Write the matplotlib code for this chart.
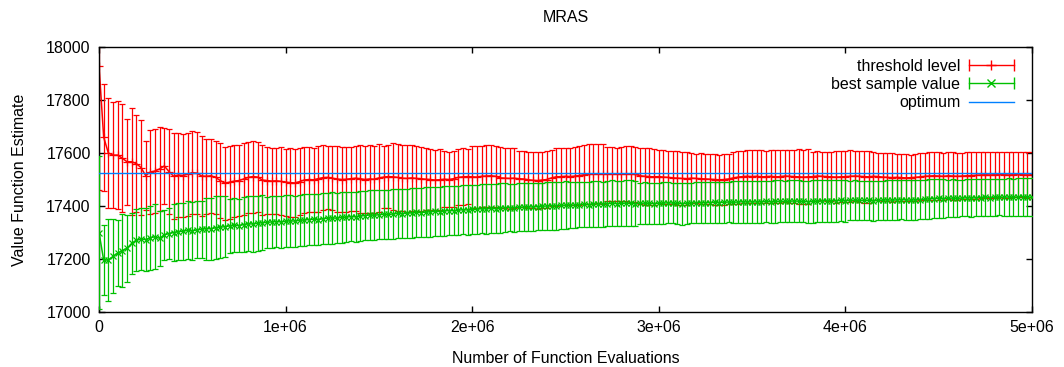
import numpy as np
import matplotlib
matplotlib.use("Agg")
import matplotlib.pyplot as plt
from matplotlib.lines import Line2D
from matplotlib.legend_handler import HandlerLine2D, HandlerTuple

plt.rcParams['font.family'] = ['Liberation Sans', 'DejaVu Sans']

# ---- data ----
evaluations = np.arange(0, 5_000_001, 25_000)

threshold_mean = [
    17930, 17660, 17600, 17592, 17592, 17580, 17567, 17567, 17560, 17545,
    17515, 17528, 17532, 17540, 17551, 17530, 17512, 17517, 17515, 17520,
    17526, 17524, 17513, 17512, 17514, 17508, 17496, 17486, 17490, 17494,
    17496, 17502, 17508, 17511, 17509, 17498, 17496, 17494, 17495, 17493,
    17490, 17488, 17487, 17492, 17498, 17500, 17499, 17503, 17507, 17508,
    17505, 17502, 17500, 17501, 17503, 17505, 17503, 17500, 17502, 17501,
    17506, 17509, 17511, 17510, 17508, 17505, 17504, 17506, 17504, 17503,
    17501, 17500, 17498, 17499, 17501, 17500, 17503, 17508, 17510, 17511,
    17510, 17509, 17512, 17513, 17514, 17512, 17506, 17505, 17504, 17505,
    17503, 17502, 17499, 17497, 17496, 17498, 17500, 17506, 17510, 17511,
    17512, 17511, 17513, 17515, 17518, 17520, 17521, 17522, 17521, 17520,
    17521, 17520, 17521, 17522, 17521, 17519, 17514, 17512, 17511, 17510,
    17511, 17509, 17508, 17506, 17505, 17504, 17503, 17505, 17504, 17503,
    17502, 17501, 17500, 17499, 17500, 17502, 17506, 17509, 17511, 17512,
    17511, 17512, 17510, 17511, 17512, 17510, 17511, 17513, 17512, 17511,
    17510, 17509, 17510, 17511, 17513, 17512, 17511, 17510, 17509, 17510,
    17511, 17512, 17513, 17512, 17511, 17510, 17512, 17511, 17509, 17508,
    17507, 17508, 17507, 17506, 17507, 17508, 17510, 17512, 17513, 17514,
    17513, 17512, 17514, 17513, 17512, 17513, 17514, 17515, 17516, 17517,
    17518, 17517, 17518, 17519, 17518, 17517, 17518, 17519, 17518, 17517,
    17518,
]

threshold_err = [
    470, 202, 209, 199, 203, 204, 163, 201, 183, 178,
    131, 157, 159, 158, 144, 161, 162, 158, 155, 156,
    158, 154, 150, 142, 140, 138, 141, 137, 138, 136,
    135, 137, 134, 136, 133, 131, 127, 126, 124, 128,
    126, 129, 127, 125, 124, 122, 121, 124, 122, 120,
    121, 123, 124, 122, 121, 123, 128, 127, 129, 126,
    128, 116, 118, 126, 127, 125, 126, 124, 122, 121,
    116, 114, 113, 115, 105, 104, 106, 106, 107, 105,
    116, 117, 115, 116, 118, 114, 115, 113, 114, 112,
    105, 104, 106, 106, 107, 105, 108, 107, 109, 108,
    107, 109, 108, 110, 112, 113, 112, 111, 112, 101,
    102, 100, 101, 103, 105, 104, 106, 107, 108, 106,
    100, 101, 99, 100, 101, 100, 99, 95, 94, 96,
    95, 94, 96, 95, 97, 96, 99, 100, 98, 99,
    101, 99, 100, 98, 99, 100, 99, 98, 99, 100,
    104, 103, 104, 92, 93, 91, 92, 93, 97, 96,
    97, 98, 96, 97, 98, 97, 91, 90, 92, 91,
    92, 90, 88, 89, 87, 88, 89, 88, 89, 90,
    89, 88, 89, 90, 89, 88, 89, 90, 89, 88,
    87, 88, 87, 86, 87, 86, 85, 86, 85, 86,
    85,
]

best_mean = [
    17300, 17196, 17196, 17210, 17222, 17232, 17240, 17259, 17270, 17276,
    17273, 17280, 17284, 17278, 17291, 17296, 17300, 17303, 17305, 17308,
    17306, 17310, 17312, 17315, 17314, 17318, 17320, 17322, 17325, 17327,
    17326, 17330, 17333, 17332, 17335, 17337, 17338, 17340, 17341, 17340,
    17342, 17344, 17343, 17346, 17347, 17349, 17350, 17349, 17352, 17354,
    17355, 17354, 17357, 17358, 17360, 17359, 17362, 17364, 17366, 17365,
    17367, 17369, 17368, 17370, 17372, 17371, 17373, 17374, 17376, 17375,
    17377, 17378, 17380, 17379, 17381, 17383, 17382, 17384, 17386, 17385,
    17387, 17388, 17390, 17389, 17391, 17390, 17392, 17393, 17394, 17393,
    17395, 17396, 17397, 17396, 17398, 17399, 17400, 17401, 17400, 17402,
    17403, 17404, 17403, 17405, 17406, 17405, 17407, 17408, 17407, 17409,
    17410, 17409, 17410, 17411, 17410, 17409, 17410, 17411, 17410, 17409,
    17410, 17411, 17412, 17411, 17410, 17409, 17410, 17411, 17412, 17413,
    17412, 17413, 17414, 17413, 17414, 17415, 17414, 17415, 17416, 17415,
    17416, 17415, 17416, 17417, 17416, 17417, 17418, 17417, 17418, 17419,
    17418, 17417, 17416, 17417, 17418, 17419, 17420, 17419, 17420, 17421,
    17420, 17421, 17422, 17421, 17422, 17421, 17420, 17421, 17422, 17423,
    17422, 17423, 17424, 17423, 17422, 17423, 17424, 17425, 17427, 17428,
    17429, 17428, 17429, 17430, 17429, 17430, 17431, 17430, 17431, 17432,
    17433, 17432, 17433, 17434, 17433, 17434, 17433, 17434, 17435, 17434,
    17433,
]

best_err = [
    287, 132, 156, 140, 125, 136, 125, 116, 117, 116,
    119, 121, 123, 104, 95, 95, 108, 108, 107, 109,
    108, 107, 108, 117, 116, 118, 117, 116, 101, 102,
    101, 104, 103, 105, 104, 103, 97, 98, 96, 97,
    98, 97, 96, 97, 98, 97, 96, 98, 97, 96,
    97, 94, 95, 94, 93, 94, 95, 94, 93, 94,
    93, 92, 93, 94, 93, 92, 93, 94, 93, 92,
    93, 94, 93, 92, 93, 94, 93, 92, 93, 94,
    93, 92, 93, 94, 93, 92, 93, 92, 90, 91,
    90, 89, 90, 91, 90, 89, 90, 91, 90, 89,
    90, 86, 87, 86, 85, 86, 87, 86, 85, 86,
    87, 86, 85, 86, 87, 86, 78, 79, 78, 77,
    78, 79, 78, 77, 78, 79, 78, 77, 78, 79,
    78, 77, 78, 79, 78, 77, 79, 80, 79, 78,
    79, 80, 79, 78, 79, 80, 79, 78, 79, 80,
    79, 78, 79, 80, 79, 78, 79, 80, 79, 78,
    79, 75, 76, 75, 74, 75, 76, 75, 74, 75,
    76, 75, 74, 75, 76, 75, 74, 75, 76, 75,
    74, 75, 70, 71, 70, 69, 70, 71, 70, 69,
    70, 71, 70, 69, 70, 71, 70, 71, 72, 71,
    72,
]

optimum = 17525

x_ticks = [0, 1_000_000, 2_000_000, 3_000_000, 4_000_000, 5_000_000]
x_tick_labels = ['0', '1e+06', '2e+06', '3e+06', '4e+06', '5e+06']
y_ticks = [17000, 17200, 17400, 17600, 17800, 18000]

RED = '#ff0000'
GREEN = '#00c000'
BLUE = '#0080ff'
FS = 11.5

# ---- figure ----
fig = plt.figure(figsize=(10.64, 3.67), dpi=100)
ax = fig.add_axes([99 / 1064, 1 - 312 / 367, (1032 - 99) / 1064, (312 - 47) / 367])

ax.errorbar(evaluations, threshold_mean, yerr=threshold_err, color=RED,
            ecolor=RED, elinewidth=0.9, lw=1.1, capsize=2.5, capthick=0.9,
            marker='+', ms=6, mew=0.9, zorder=2)
ax.errorbar(evaluations, best_mean, yerr=best_err, color=GREEN,
            ecolor=GREEN, elinewidth=0.9, lw=1.1, capsize=2.5, capthick=0.9,
            marker='x', ms=5, mew=0.9, zorder=3)
ax.axhline(optimum, color=BLUE, lw=1.0, zorder=4)

ax.set_xlim(0, 5_000_000)
ax.set_ylim(17000, 18000)
ax.set_xticks(x_ticks)
ax.set_xticklabels(x_tick_labels)
ax.set_yticks(y_ticks)
ax.tick_params(direction='in', length=4.5, width=1, top=True, right=True,
               labelsize=FS, pad=6, colors='black')
for s in ax.spines.values():
    s.set_linewidth(1.0)

ax.set_title('MRAS', fontsize=FS, pad=18)
ax.set_xlabel('Number of Function Evaluations', fontsize=FS, labelpad=11)
ax.set_ylabel('Value Function Estimate', fontsize=FS, labelpad=14)

# legend, gnuplot style
h_red_caps = Line2D([], [], color=RED, lw=1.0, marker='|', ms=8, mew=1.0)
h_red_pt = Line2D([], [], color=RED, lw=0, marker='+', ms=7, mew=1.0)
h_grn_caps = Line2D([], [], color=GREEN, lw=1.0, marker='|', ms=8, mew=1.0)
h_grn_pt = Line2D([], [], color=GREEN, lw=0, marker='x', ms=6, mew=1.0)
h_opt = Line2D([], [], color=BLUE, lw=1.0)
hm = {
    h_red_caps: HandlerLine2D(numpoints=2, marker_pad=0.0),
    h_grn_caps: HandlerLine2D(numpoints=2, marker_pad=0.0),
    h_red_pt: HandlerLine2D(numpoints=1),
    h_grn_pt: HandlerLine2D(numpoints=1),
}
leg = ax.legend([(h_red_caps, h_red_pt), (h_grn_caps, h_grn_pt), h_opt],
                ['threshold level', 'best sample value', 'optimum'],
                handler_map={**hm, tuple: HandlerTuple(ndivide=1, pad=0)},
                loc='upper right', bbox_to_anchor=(0.9925, 0.998),
                markerfirst=False, frameon=False, fontsize=FS,
                handlelength=2.8, handletextpad=0.55, labelspacing=0.2,
                borderpad=0.2)

fig.savefig('out.png', dpi=100)
